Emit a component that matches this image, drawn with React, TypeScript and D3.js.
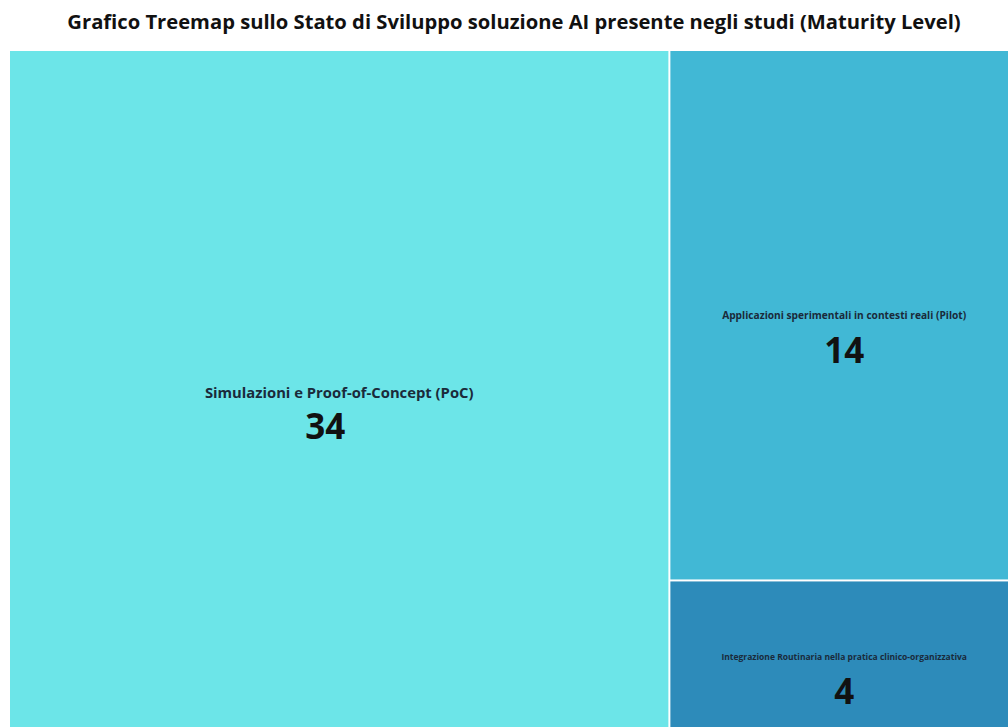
import React from "react";
import * as d3 from "d3";

const categories = [
  "Simulazioni e Proof-of-Concept (PoC)",
  "Applicazioni sperimentali in contesti reali (Pilot)",
  "Integrazione Routinaria nella pratica clinico-organizzativa",
];
const values = [34, 14, 4];
const colors = ["#6ce5e8", "#41b8d5", "#2d8bba"];
const labelSizes = [14.8, 10.2, 8.5];
const valueSizes = [35, 35, 35];
const title = "Grafico Treemap sullo Stato di Sviluppo soluzione AI presente negli studi (Maturity Level)";

const W = 1008;
const H = 727;
const X0 = 10, Y0 = 51, X1 = 1018, Y1 = 731;

export default function App() {
  const data = categories.map((c, i) => ({ name: c, value: values[i], i }));
  const root = d3
    .hierarchy<any>({ children: data })
    .sum((d: any) => d.value || 0);
  d3.treemap<any>()
    .tile(d3.treemapSquarify)
    .size([X1 - X0, Y1 - Y0])
    .paddingInner(2)(root);
  const leaves = root.leaves() as d3.HierarchyRectangularNode<any>[];
  return (
    <svg
      width={W}
      height={H}
      style={{ position: "absolute", left: 0, top: 0, background: "#fff" }}
      fontFamily="'Open Sans', sans-serif"
    >
      <text x={514} y={29} textAnchor="middle" fontSize={20.2} fontWeight={700} fill="#111">
        {title}
      </text>
      <g transform={`translate(${X0},${Y0})`}>
        {leaves.map((l) => {
          const i = l.data.i;
          const cx = (l.x0 + l.x1) / 2;
          const cy = (l.y0 + l.y1) / 2;
          return (
            <g key={i}>
              <rect x={l.x0} y={l.y0} width={l.x1 - l.x0} height={l.y1 - l.y0} fill={colors[i]} />
              <text x={cx} y={cy + (i === 0 ? 7 : 4)} textAnchor="middle" fontSize={labelSizes[i]} fontWeight={700} fill="#1a2a3a">
                {l.data.name}
              </text>
              <text x={cx - (i === 0 ? 14 : 0)} y={cy + 48} textAnchor="middle" fontSize={valueSizes[i]} fontWeight={700} fill="#111">
                {l.data.value}
              </text>
            </g>
          );
        })}
      </g>
    </svg>
  );
}
